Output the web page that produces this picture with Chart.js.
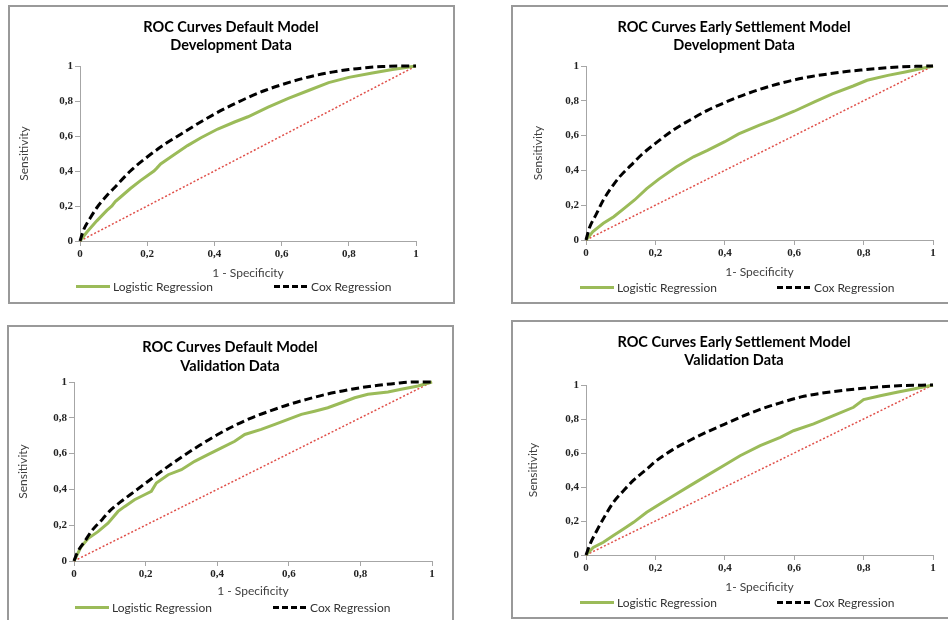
<!DOCTYPE html>
<html>
<head>
<meta charset="utf-8">
<script src="https://cdn.jsdelivr.net/npm/chart.js@4.4.1/dist/chart.umd.min.js"></script>
<style>
  html, body { margin: 0; padding: 0; background: #fff; }
  body { width: 948px; height: 620px; position: relative; overflow: hidden; font-family: Lato, "Open Sans", sans-serif; }
  .frame { position: absolute; border: 2px solid #999; box-sizing: border-box; }
  .frame canvas { position: absolute; left: 0; top: 0; }
  .title { position: absolute; width: 400px; text-align: center; font-weight: bold; font-size: 14.5px; line-height: 18px; color: #000; }
  .legend { position: absolute; font-size: 12px; line-height: 14px; height: 14px; color: #333; white-space: nowrap; }
  .swatch { display: inline-block; width: 34px; height: 3px; vertical-align: middle; margin-right: 3px; position: relative; top: -1px; }
  .sw-logit { background: #9bbb59; }
  .sw-cox { background: repeating-linear-gradient(90deg, #000 0 6px, transparent 6px 9px); }
</style>
</head>
<body>
<script>
// tick labels (comma decimals as in the original)
const tickLabels = ["0", "0,2", "0,4", "0,6", "0,8", "1"];

// reference diagonal
const diagFpr = [0, 1];
const diagTpr = [0, 1];

// Default model, development data
const defDevLogitFpr = [0, 0.02, 0.05, 0.08, 0.095, 0.105, 0.12, 0.15, 0.18, 0.22, 0.228, 0.24, 0.27, 0.32, 0.36, 0.41, 0.46, 0.5, 0.56, 0.62, 0.68, 0.74, 0.8, 0.87, 0.93, 1];
const defDevLogitTpr = [0, 0.05, 0.115, 0.175, 0.2, 0.225, 0.25, 0.3, 0.345, 0.4, 0.415, 0.44, 0.48, 0.545, 0.59, 0.64, 0.68, 0.71, 0.765, 0.815, 0.86, 0.905, 0.935, 0.96, 0.98, 1];
const defDevCoxFpr = [0, 0.01, 0.03, 0.05, 0.08, 0.1, 0.15, 0.2, 0.25, 0.3, 0.35, 0.4, 0.45, 0.5, 0.55, 0.6, 0.65, 0.7, 0.75, 0.8, 0.85, 0.9, 0.95, 1];
const defDevCoxTpr = [0, 0.06, 0.13, 0.19, 0.26, 0.3, 0.4, 0.48, 0.55, 0.61, 0.67, 0.725, 0.775, 0.82, 0.86, 0.893, 0.922, 0.946, 0.965, 0.98, 0.99, 0.997, 1, 1];

// Early settlement model, development data
const esDevLogitFpr = [0, 0.02, 0.05, 0.08, 0.11, 0.14, 0.175, 0.21, 0.26, 0.31, 0.35, 0.4, 0.44, 0.5, 0.54, 0.6, 0.66, 0.71, 0.77, 0.81, 0.87, 0.92, 1];
const esDevLogitTpr = [0, 0.048, 0.096, 0.134, 0.182, 0.23, 0.295, 0.35, 0.42, 0.478, 0.515, 0.565, 0.61, 0.66, 0.69, 0.74, 0.795, 0.84, 0.885, 0.918, 0.946, 0.966, 1];
const esDevCoxFpr = [0, 0.01, 0.03, 0.05, 0.08, 0.1, 0.13, 0.16, 0.2, 0.25, 0.3, 0.35, 0.4, 0.45, 0.5, 0.55, 0.6, 0.65, 0.7, 0.75, 0.8, 0.85, 0.9, 0.95, 1];
const esDevCoxTpr = [0, 0.07, 0.15, 0.23, 0.32, 0.37, 0.43, 0.49, 0.555, 0.63, 0.69, 0.745, 0.79, 0.83, 0.865, 0.895, 0.92, 0.94, 0.955, 0.968, 0.978, 0.987, 0.994, 0.998, 1];

// Default model, validation data
const defValLogitFpr = [0, 0.02, 0.04, 0.067, 0.095, 0.123, 0.142, 0.169, 0.197, 0.216, 0.23, 0.263, 0.3, 0.337, 0.374, 0.412, 0.449, 0.477, 0.523, 0.561, 0.598, 0.635, 0.672, 0.709, 0.747, 0.784, 0.821, 0.877, 0.914, 0.961, 1];
const defValLogitTpr = [0, 0.08, 0.127, 0.164, 0.211, 0.277, 0.305, 0.342, 0.37, 0.389, 0.436, 0.482, 0.51, 0.557, 0.594, 0.632, 0.669, 0.707, 0.735, 0.763, 0.791, 0.819, 0.837, 0.856, 0.884, 0.912, 0.931, 0.944, 0.959, 0.978, 1];
const defValCoxFpr = [0, 0.01, 0.03, 0.05, 0.08, 0.1, 0.13, 0.17, 0.21, 0.25, 0.3, 0.35, 0.4, 0.45, 0.5, 0.55, 0.6, 0.65, 0.7, 0.75, 0.8, 0.85, 0.9, 0.95, 1];
const defValCoxTpr = [0, 0.05, 0.11, 0.17, 0.235, 0.28, 0.33, 0.39, 0.45, 0.51, 0.58, 0.645, 0.705, 0.758, 0.803, 0.84, 0.874, 0.903, 0.929, 0.95, 0.968, 0.982, 0.993, 1, 1];

// Early settlement model, validation data
const esValLogitFpr = [0, 0.021, 0.05, 0.079, 0.108, 0.137, 0.175, 0.213, 0.252, 0.3, 0.348, 0.396, 0.444, 0.502, 0.56, 0.598, 0.656, 0.713, 0.771, 0.8, 0.848, 0.896, 0.944, 1];
const esValLogitTpr = [0, 0.045, 0.075, 0.114, 0.153, 0.192, 0.251, 0.3, 0.349, 0.408, 0.467, 0.525, 0.584, 0.643, 0.692, 0.731, 0.771, 0.82, 0.869, 0.914, 0.937, 0.957, 0.976, 1];
const esValCoxFpr = [0, 0.012, 0.031, 0.055, 0.079, 0.108, 0.137, 0.175, 0.2, 0.25, 0.3, 0.35, 0.4, 0.45, 0.5, 0.56, 0.62, 0.68, 0.75, 0.83, 0.9, 1];
const esValCoxTpr = [0, 0.065, 0.143, 0.231, 0.31, 0.378, 0.44, 0.505, 0.55, 0.62, 0.675, 0.725, 0.77, 0.815, 0.855, 0.895, 0.93, 0.952, 0.97, 0.986, 0.996, 1];

const AXIS_GREY = "#a6a6a6";
const FRAME_BORDER = 2;

// page layout of the four charts (frame box, plot area, text anchors)
const panels = [
  { frame: [8, 5, 447, 299], plot: [80, 66, 416, 241], yTitleX: 24, xTitleY: 273,
    titleX: 231, titleY: 27, titleGap: 18, legendY: 287, legendX: [76, 274],
    title: ["ROC Curves Default Model", "Development Data"], xTitle: "1 - Specificity",
    logit: [defDevLogitFpr, defDevLogitTpr], cox: [defDevCoxFpr, defDevCoxTpr] },
  { frame: [511, 5, 442, 299], plot: [586, 66, 933, 240], yTitleX: 538, xTitleY: 272,
    titleX: 734, titleY: 27, titleGap: 18, legendY: 288, legendX: [580, 777],
    title: ["ROC Curves Early Settlement Model", "Development Data"], xTitle: "1- Specificity",
    logit: [esDevLogitFpr, esDevLogitTpr], cox: [esDevCoxFpr, esDevCoxTpr] },
  { frame: [7, 325, 447, 300], plot: [74, 382, 432, 561], yTitleX: 23, xTitleY: 591,
    titleX: 230, titleY: 346, titleGap: 19, legendY: 608, legendX: [75, 273],
    title: ["ROC Curves Default Model", "Validation Data"], xTitle: "1 - Specificity",
    logit: [defValLogitFpr, defValLogitTpr], cox: [defValCoxFpr, defValCoxTpr] },
  { frame: [511, 320, 442, 299], plot: [586, 385, 933, 555], yTitleX: 533, xTitleY: 587,
    titleX: 734, titleY: 342, titleGap: 18, legendY: 603, legendX: [580, 777],
    title: ["ROC Curves Early Settlement Model", "Validation Data"], xTitle: "1- Specificity",
    logit: [esValLogitFpr, esValLogitTpr], cox: [esValCoxFpr, esValCoxTpr] },
];

function toPoints(xs, ys) {
  return xs.map((x, i) => ({ x: x, y: ys[i] }));
}

function axisBase() {
  return {
    type: "linear",
    min: 0,
    max: 1,
    ticks: {
      stepSize: 0.2,
      padding: 2,
      maxRotation: 0,
      color: "#222",
      font: { family: "Liberation Serif", size: 11, weight: "bold" },
      callback: (v) => tickLabels[Math.round(v * 5)],
    },
    grid: { drawOnChartArea: false, drawTicks: true, tickLength: 5, color: AXIS_GREY },
    border: { display: true, color: AXIS_GREY, width: 1 },
  };
}

function makePanel(p) {
  const [fx, fy, fw, fh] = p.frame;
  const [pl, pt, pr, pb] = p.plot;

  const frame = document.createElement("div");
  frame.className = "frame";
  frame.style.left = fx + "px";
  frame.style.top = fy + "px";
  frame.style.width = fw + "px";
  frame.style.height = fh + "px";
  const canvas = document.createElement("canvas");
  const cx = fx + FRAME_BORDER, cy = fy + FRAME_BORDER;
  const cw = fw - 2 * FRAME_BORDER, ch = fh - 2 * FRAME_BORDER;
  canvas.width = cw;
  canvas.height = ch;
  frame.appendChild(canvas);
  document.body.appendChild(frame);

  // title
  const t = document.createElement("div");
  t.className = "title";
  t.style.left = (p.titleX - 200) + "px";
  t.style.top = (p.titleY - p.titleGap / 2) + "px";
  t.style.lineHeight = p.titleGap + "px";
  t.innerHTML = p.title.join("<br>");
  document.body.appendChild(t);

  // legend
  [["sw-logit", "Logistic Regression"], ["sw-cox", "Cox Regression"]].forEach(([cls, txt], i) => {
    const item = document.createElement("div");
    item.className = "legend";
    item.style.left = p.legendX[i] + "px";
    item.style.top = (p.legendY - 7) + "px";
    item.innerHTML = '<span class="swatch ' + cls + '"></span>' + txt;
    document.body.appendChild(item);
  });

  const titleHalf = 7.2; // half of 12px * 1.2 line height
  const padLeft = p.yTitleX - titleHalf - cx;
  const yWidth = pl - cx - padLeft;
  const xHeight = p.xTitleY + titleHalf - pb;
  const padBottom = cy + ch - (p.xTitleY + titleHalf);

  const xAxis = axisBase();
  xAxis.afterFit = (s) => { s.height = xHeight; };
  xAxis.title = { display: true, text: p.xTitle, color: "#404040", padding: 0, font: { family: "Lato", size: 12 } };

  const yAxis = axisBase();
  yAxis.afterFit = (s) => { s.width = yWidth; };
  yAxis.title = { display: true, text: "Sensitivity", color: "#404040", padding: 0, font: { family: "Lato", size: 12 } };

  return new Chart(canvas, {
    type: "scatter",
    data: {
      datasets: [
        {
          label: "Cox Regression",
          data: toPoints(p.cox[0], p.cox[1]),
          showLine: true,
          borderColor: "#000000",
          borderWidth: 3,
          borderDash: [8, 4],
          cubicInterpolationMode: "monotone",
          pointRadius: 0,
          clip: false,
        },
        {
          label: "Logistic Regression",
          data: toPoints(p.logit[0], p.logit[1]),
          showLine: true,
          borderColor: "#9bbb59",
          borderWidth: 3,
          pointRadius: 0,
          clip: false,
        },
        {
          label: "Random",
          data: toPoints(diagFpr, diagTpr),
          showLine: true,
          borderColor: "#e0504a",
          borderWidth: 1.5,
          borderDash: [2, 2],
          pointRadius: 0,
          clip: false,
        },
      ],
    },
    options: {
      responsive: false,
      animation: false,
      layout: { padding: { left: padLeft, top: pt - cy, right: cx + cw - pr, bottom: padBottom } },
      plugins: { legend: { display: false }, tooltip: { enabled: false } },
      scales: { x: xAxis, y: yAxis },
    },
  });
}

panels.forEach(makePanel);
</script>
</body>
</html>
